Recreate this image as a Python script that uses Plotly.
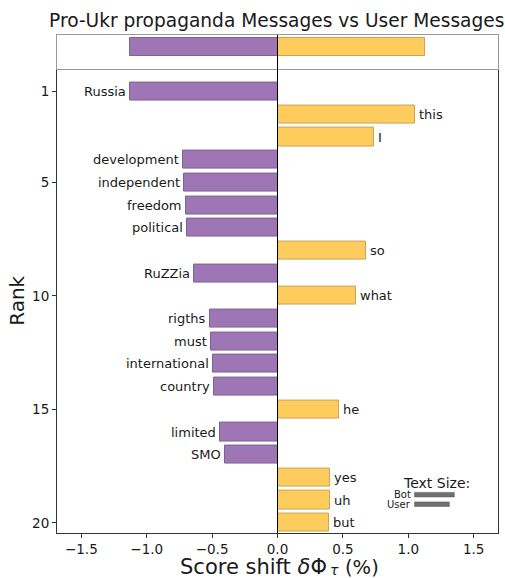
import plotly.graph_objects as go

# Top-20 words ranked by contribution to the score shift
ranks = list(range(1, 21))
words = ["Russia", "this", "I", "development", "independent", "freedom",
         "political", "so", "RuZZia", "what", "rigths", "must",
         "international", "country", "he", "limited", "SMO", "yes", "uh", "but"]
shifts = [-1.127, 1.048, 0.738, -0.719, -0.712, -0.696, -0.691, 0.676,
          -0.635, 0.600, -0.513, -0.505, -0.497, -0.484, 0.470, -0.441,
          -0.403, 0.401, 0.401, 0.396]

# Totals shown in the summary strip on top
total_labels = ["Bot", "User"]
total_shifts = [-1.127, 1.125]

# Relative text-size indicator
size_labels = ["Bot", "User"]
size_widths = [0.304, 0.266]

PURPLE = "#9e76b6"
PURPLE_EDGE = "#7c6390"
YELLOW = "#fecb5d"
YELLOW_EDGE = "#c9a55a"
FONT = "DejaVu Sans"
TXT = "#1a1a1a"
XR = [-1.686, 1.686]

colors = [PURPLE if v < 0 else YELLOW for v in shifts]
edges = [PURPLE_EDGE if v < 0 else YELLOW_EDGE for v in shifts]

fig = go.Figure()

fig.add_trace(go.Bar(
    x=shifts, y=ranks, orientation="h", width=0.8,
    marker=dict(color=colors, line=dict(color=edges, width=1)),
    xaxis="x", yaxis="y", showlegend=False, hoverinfo="x+y",
))

for lbl, v in zip(total_labels, total_shifts):
    fig.add_trace(go.Bar(
        x=[v], y=[0], orientation="h", width=0.8,
        marker=dict(color=PURPLE if v < 0 else YELLOW,
                    line=dict(color=PURPLE_EDGE if v < 0 else YELLOW_EDGE, width=1)),
        xaxis="x2", yaxis="y2", showlegend=False, name=lbl,
    ))

# word labels beside each bar end
for w, v, r in zip(words, shifts, ranks):
    fig.add_annotation(
        x=v, y=r, xref="x", yref="y", text=w, showarrow=False,
        xanchor="right" if v < 0 else "left", yanchor="middle",
        xshift=-3 if v < 0 else 3, borderpad=0,
        font=dict(family=FONT, size=13, color=TXT),
    )

# text-size indicator
fig.add_annotation(x=1.215, y=18.23, xref="x", yref="y", text="Text Size:",
                   showarrow=False, xanchor="center", yanchor="middle", borderpad=0,
                   font=dict(family=FONT, size=14, color=TXT))
x0 = 1.048
for lbl, wdt, yy in zip(size_labels, size_widths, [18.76, 19.18]):
    fig.add_annotation(x=x0, y=yy, xref="x", yref="y", text=lbl,
                       showarrow=False, xanchor="right", yanchor="middle",
                       xshift=-3, borderpad=0,
                       font=dict(family=FONT, size=10, color=TXT))
    fig.add_shape(type="rect", xref="x", yref="y", x0=x0, x1=x0 + wdt,
                  y0=yy - 0.1, y1=yy + 0.1,
                  fillcolor="#707070", line=dict(color="#555555", width=0.5))

# x-axis title, built from pieces so the subscript sits low and compact
TY = -0.0904
fig.add_annotation(x=0.6152, y=TY, xref="paper", yref="paper",
                   text="Score shift <i>δ</i>Φ",
                   showarrow=False, xanchor="right", yanchor="bottom", borderpad=0,
                   yshift=-2, font=dict(family=FONT, size=21, color=TXT))
fig.add_annotation(x=0.6152, y=TY, xref="paper", yref="paper",
                   text="<i>τ</i>",
                   showarrow=False, xanchor="left", yanchor="bottom", borderpad=0,
                   xshift=1, yshift=-1, font=dict(family=FONT, size=14, color=TXT))
fig.add_annotation(x=0.650, y=TY, xref="paper", yref="paper",
                   text="(%)",
                   showarrow=False, xanchor="left", yanchor="bottom", borderpad=0,
                   yshift=-2, font=dict(family=FONT, size=19.5, color=TXT))
fig.add_annotation(x=-0.0907, y=0.5 * 0.9326, xref="paper", yref="paper",
                   text="Rank", textangle=-90,
                   showarrow=False, xanchor="center", yanchor="middle", borderpad=0,
                   font=dict(family=FONT, size=20, color=TXT))

# zero line across both panels
fig.add_shape(type="line", xref="x", yref="paper", x0=0, x1=0, y0=0, y1=1,
              line=dict(color="black", width=1))

split = 0.9326
fig.update_layout(
    width=505, height=578,
    margin=dict(l=57, r=7, t=35, b=45),
    plot_bgcolor="white", paper_bgcolor="white",
    bargap=0, barmode="overlay",
    font=dict(family=FONT, color=TXT),
    title=dict(text="Pro-Ukr propaganda Messages vs User Messages",
               x=0.548, xanchor="center", y=0.953, yanchor="bottom",
               font=dict(family=FONT, size=18.6, color=TXT)),
    xaxis=dict(range=XR, domain=[0, 1], anchor="y", automargin=False,
               tickvals=[-1.5, -1.0, -0.5, 0.0, 0.5, 1.0, 1.5],
               ticktext=["\u22121.5", "\u22121.0", "\u22120.5", "0.0", "0.5", "1.0", "1.5"],
               ticks="outside", ticklen=4, tickcolor="#333",
               showgrid=False, zeroline=False,
               showline=True, linecolor="#333", linewidth=1, mirror=False,
               tickfont=dict(family=FONT, size=13.5, color=TXT)),
    yaxis=dict(range=[20.45, -0.02], domain=[0, split], anchor="x", automargin=False,
               tickvals=[1, 5, 10, 15, 20],
               ticks="outside", ticklen=4, tickcolor="#333",
               showgrid=False, zeroline=False,
               showline=True, linecolor="#333", linewidth=1, mirror=True,
               tickfont=dict(family=FONT, size=13.5, color=TXT)),
    xaxis2=dict(range=XR, domain=[0, 1], anchor="y2", matches="x", automargin=False,
                showticklabels=False, ticks="", showgrid=False, zeroline=False,
                showline=True, linecolor="#999", linewidth=1, mirror=True),
    yaxis2=dict(range=[0.978, -0.516], domain=[split, 1], anchor="x2", automargin=False,
                showticklabels=False, ticks="", showgrid=False, zeroline=False,
                showline=True, linecolor="#999", linewidth=1, mirror=True),
)

fig.write_html("out.html")
